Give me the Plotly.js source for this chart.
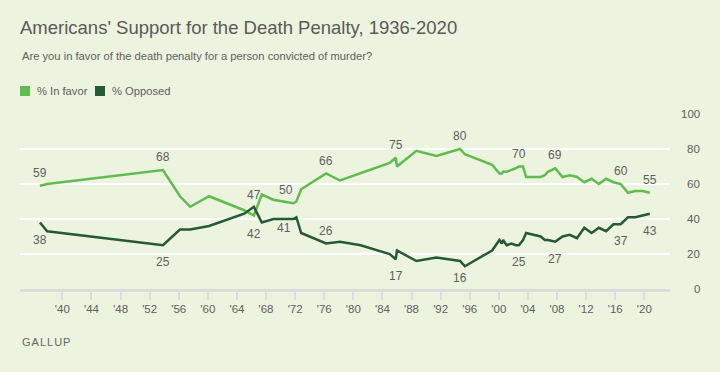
<!DOCTYPE html>
<html>
<head>
<meta charset="utf-8">
<script src="https://cdn.plot.ly/plotly-3.0.1.min.js"></script>
<style>
  html, body { margin: 0; padding: 0; background: #ECF3DE; }
  #chart { width: 720px; height: 372px; }
</style>
</head>
<body>
<div id="chart"></div>
<script>
// ---- Data (poll dates as decimal years) ----
const pollDates = [
  1936.92, 1937.92, 1953.83, 1956.17, 1957.58, 1960.17, 1965.0, 1966.33, 1967.42, 1969.0,
  1971.75, 1972.17, 1972.83, 1976.25, 1978.17, 1981.0, 1985.0, 1985.83, 1986.0, 1988.67,
  1991.42, 1994.67, 1995.33, 1999.08, 2000.08, 2000.42, 2000.58, 2001.08, 2001.75, 2002.33,
  2002.75, 2003.33, 2003.75, 2004.75, 2005.75, 2006.33, 2006.75, 2007.75, 2008.75, 2009.75,
  2010.75, 2011.75, 2012.75, 2013.75, 2014.75, 2015.75, 2016.75, 2017.75, 2018.75, 2019.75,
  2020.75
];
const inFavor = [
  59, 60, 68, 53, 47, 53, 45, 42, 54, 51,
  49, 50, 57, 66, 62, 66, 72, 75, 70, 79,
  76, 80, 77, 71, 66, 66, 67, 67, 68, 69,
  70, 70, 64, 64, 64, 65, 67, 69, 64, 65,
  64, 61, 63, 60, 63, 61, 60, 55, 56, 56,
  55
];
const opposed = [
  38, 33, 25, 34, 34, 36, 43, 47, 38, 40,
  40, 41, 32, 26, 27, 25, 20, 17, 22, 16,
  18, 16, 13, 22, 28, 26, 28, 25, 26, 25,
  25, 28, 32, 31, 30, 28, 28, 27, 30, 31,
  29, 35, 32, 35, 33, 37, 37, 41, 41, 42,
  43
];
const seriesNames = ['% In favor', '% Opposed'];
const xTickVals = [1940, 1944, 1948, 1952, 1956, 1960, 1964, 1968, 1972, 1976, 1980, 1984, 1988, 1992, 1996, 2000, 2004, 2008, 2012, 2016, 2020];
const xTickText = ["'40", "'44", "'48", "'52", "'56", "'60", "'64", "'68", "'72", "'76", "'80", "'84", "'88", "'92", "'96", "'00", "'04", "'08", "'12", "'16", "'20"];
const yTickVals = [0, 20, 40, 60, 80, 100];
// indices of labelled points
const favorLabelIdx = [0, 2, 7, 11, 13, 17, 21, 30, 37, 46, 50];
const opposedLabelIdx = [0, 2, 7, 11, 13, 17, 21, 30, 37, 46, 50];

// ---- Styles ----
const GREEN = '#5FBD4E';
const DARK = '#245A36';
const BG = '#ECF3DE';
const TXT = '#5f5f5f';
const FONT = 'Liberation Sans, Arial, sans-serif';
const colors = [GREEN, DARK];

// placement of labels (above: +13, below: -17), keyed by index
const favorPlace = {7: {dy: -18}, 11: {dy: 12, dx: -10}};
const opposedPlace = {7: {dy: 12}, 11: {dy: -11, dx: -12}, 13: {dy: 13}};

const traces = [
  {x: pollDates, y: inFavor, type: 'scatter', mode: 'lines', name: seriesNames[0],
   line: {color: GREEN, width: 2.5}, showlegend: false, hoverinfo: 'x+y'},
  {x: pollDates, y: opposed, type: 'scatter', mode: 'lines', name: seriesNames[1],
   line: {color: DARK, width: 2.5}, showlegend: false, hoverinfo: 'x+y'}
];

const annotations = [];
const shapes = [];
favorLabelIdx.forEach(i => {
  const p = favorPlace[i] || {};
  annotations.push({x: pollDates[i], y: inFavor[i], xref: 'x', yref: 'y', text: String(inFavor[i]),
    showarrow: false, xanchor: 'center', yanchor: 'middle', xshift: p.dx || 0, yshift: (p.dy !== undefined ? p.dy : 13),
    font: {family: FONT, size: 12, color: TXT}});
});
opposedLabelIdx.forEach(i => {
  const p = opposedPlace[i] || {};
  annotations.push({x: pollDates[i], y: opposed[i], xref: 'x', yref: 'y', text: String(opposed[i]),
    showarrow: false, xanchor: 'center', yanchor: 'middle', xshift: p.dx || 0, yshift: (p.dy !== undefined ? p.dy : -17),
    font: {family: FONT, size: 12, color: TXT}});
});
yTickVals.forEach(v => {
  annotations.push({x: 1, y: v, xref: 'paper', yref: 'y', text: String(v), showarrow: false,
    xanchor: 'right', yanchor: 'middle', xshift: 32, font: {family: FONT, size: 11.5, color: TXT}});
});
annotations.push({x: 0, y: 1.331, xref: 'paper', yref: 'paper', xanchor: 'left', yanchor: 'middle',
  text: 'Are you in favor of the death penalty for a person convicted of murder?', showarrow: false,
  font: {family: FONT, size: 11.2, color: TXT}});
annotations.push({x: 0, y: -0.301, xref: 'paper', yref: 'paper', xanchor: 'left', yanchor: 'middle',
  text: '<span style="letter-spacing:1px">GALLUP</span>', showarrow: false,
  font: {family: FONT, size: 11, color: '#666666'}});

// legend: swatch + name per series
const legendX = [0, 75 / 650];
seriesNames.forEach((name, k) => {
  shapes.push({type: 'rect', xref: 'paper', yref: 'paper', x0: legendX[k], x1: legendX[k] + 10 / 650,
    y0: (289 - 96) / 175, y1: (289 - 86) / 175, fillcolor: colors[k], line: {width: 0}});
  annotations.push({x: legendX[k] + 15 / 650, y: (289 - 91) / 175, xref: 'paper', yref: 'paper',
    xanchor: 'left', yanchor: 'middle', text: name, showarrow: false,
    font: {family: FONT, size: 11.2, color: TXT}});
});

const layout = {
  width: 720, height: 372,
  paper_bgcolor: BG, plot_bgcolor: BG,
  margin: {l: 20, r: 50, t: 114, b: 83},
  title: {text: "Americans' Support for the Death Penalty, 1936-2020", x: 0, xref: 'paper', xanchor: 'left',
    y: 1 - 27.5 / 372, yref: 'container', yanchor: 'middle',
    font: {family: FONT, size: 18.5, color: '#5a5a5a'}},
  showlegend: false,
  xaxis: {range: [1934.18, 2023.53], tickvals: xTickVals, ticktext: xTickText,
    showgrid: false, zeroline: false, showline: true, linecolor: '#dcdcdc', linewidth: 2.5,
    ticks: 'outside', ticklen: 8, tickwidth: 2, tickcolor: '#dcdcdc',
    tickfont: {family: FONT, size: 11.5, color: TXT}, fixedrange: true},
  yaxis: {range: [0, 100], tickvals: yTickVals, showticklabels: false, showgrid: true,
    gridcolor: '#ffffff', gridwidth: 2.5, zeroline: false, showline: false, ticks: '', fixedrange: true},
  annotations: annotations,
  shapes: shapes
};

Plotly.newPlot('chart', traces, layout, {displayModeBar: false, staticPlot: true});
</script>
</body>
</html>
